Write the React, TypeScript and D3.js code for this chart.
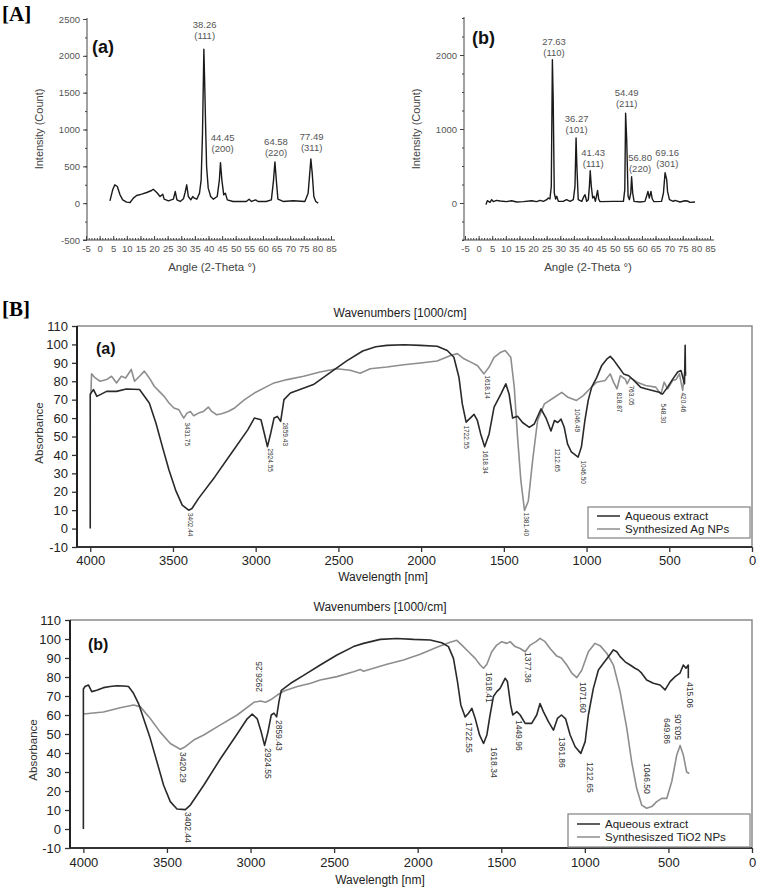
import React, { useEffect, useRef } from 'react';
import * as d3 from 'd3';

type Pt = [number, number];

interface PeakLabel {
    text: string;
    hkl?: string;
    x: number;
    y: number;
    rot?: number;
}

const W = 760;
const H = 888;
const FONT = 'Liberation Sans, Arial, sans-serif';

// ---------- [A] XRD ----------
const xrdXTicks = d3.range(-5, 86, 5);
const xrdAgYTicks = [-500, 0, 500, 1000, 1500, 2000, 2500];
const xrdTiYTicks = [0, 1000, 2000];

// (a) Ag NPs: [2-theta, count]
const xrdAg: Pt[] = [
    [3.8, 32], [4.8, 181], [5.6, 249], [6.5, 226], [7.5, 113], [8.5, 45], [9.9, 14], [11.2, 9],
    [12.4, 68], [13.6, 104], [15.5, 122], [17.3, 145], [19.1, 172], [19.7, 190], [21, 145],
    [22.2, 90], [23.2, 122], [23.7, 54], [25.3, 32], [27.1, 54], [27.8, 158], [28.4, 45],
    [29.6, 23], [30.8, 59], [31.4, 145], [32, 249], [32.6, 90], [33.5, 45], [34.2, 90],
    [34.8, 68], [35.7, 54], [36.7, 136], [37.3, 317], [37.8, 951], [38.3, 2090], [38.6, 1630],
    [39.0, 951], [39.3, 498], [39.9, 204], [40.8, 90], [41.8, 54], [43.2, 90], [44.0, 317],
    [44.4, 550], [44.9, 317], [45.6, 113], [46.2, 136], [46.9, 45], [49, 23], [53.9, 23],
    [54.9, 54], [55.8, 23], [57.3, 45], [58.2, 23], [61.2, 23], [63.1, 45], [63.9, 317],
    [64.4, 560], [64.9, 317], [65.5, 54], [67.4, 23], [71.1, 32], [75.4, 23], [76.6, 136],
    [77.2, 408], [77.6, 600], [78.1, 408], [78.7, 90], [79.4, 23], [80.3, 0],
];

// (b) TiO2 NPs
const xrdTi: Pt[] = [
    [2.7, -22], [3.2, 31], [4.2, 9], [4.8, 45], [5.4, 18], [6.6, 36], [7.9, 27], [10.3, 18],
    [12.1, 31], [14, 13], [16.4, 18], [19.5, 31], [21.3, 18], [22.6, 36], [23.8, 22], [25, 45],
    [25.6, 67], [26.2, 54], [26.7, 225], [27.1, 1935], [27.4, 1393], [27.8, 135], [28.3, 54],
    [28.7, 90], [29.3, 22], [31.1, 22], [32.3, 45], [33.6, 22], [34.8, 45], [35.4, 225],
    [35.8, 880], [36.1, 494], [36.6, 45], [37.9, 22], [38.7, 90], [39.1, 112], [39.7, 22],
    [40.3, 45], [40.7, 225], [41.0, 435], [41.4, 225], [41.9, 67], [42.4, 90], [42.9, 22],
    [43.4, 112], [43.7, 171], [44.1, 54], [44.6, 18], [49.5, 22], [53.2, 22], [53.7, 180],
    [54.0, 1213], [54.4, 854], [54.9, 90], [55.4, 45], [55.9, 135], [56.2, 355], [56.6, 135],
    [57.1, 22], [59.3, 13], [61.1, 22], [61.7, 90], [62.2, 157], [62.7, 67], [63.3, 157],
    [63.8, 54], [64.4, 18], [67.2, 22], [67.9, 135], [68.5, 410], [69.1, 315], [69.4, 157],
    [70.1, 45], [71.5, 22], [72.1, 36], [74, 13], [75.8, 31], [76.7, 27], [77.7, 9], [79.5, 13],
];

const xrdAgPeaks: PeakLabel[] = [
    { text: '38.26', hkl: '(111)', x: 38.6, y: 2418 },
    { text: '44.45', hkl: '(200)', x: 45.2, y: 883 },
    { text: '64.58', hkl: '(220)', x: 64.8, y: 829 },
    { text: '77.49', hkl: '(311)', x: 77.9, y: 897 },
];

const xrdTiPeaks: PeakLabel[] = [
    { text: '27.63', hkl: '(110)', x: 27.7, y: 2176 },
    { text: '36.27', hkl: '(101)', x: 36.0, y: 1135 },
    { text: '41.43', hkl: '(111)', x: 42.1, y: 676 },
    { text: '54.49', hkl: '(211)', x: 54.4, y: 1486 },
    { text: '56.80', hkl: '(220)', x: 59.3, y: 608 },
    { text: '69.16', hkl: '(301)', x: 69.3, y: 676 },
];

// ---------- [B] FTIR ----------
const ftirXTicks = [4000, 3500, 3000, 2500, 2000, 1500, 1000, 500, 0];
const ftirYTicks = d3.range(-10, 111, 10);
const legendAg = ['Aqueous extract', 'Synthesized Ag NPs'];
const legendTi = ['Aqueous extract', 'Synthesiszed TiO2 NPs'];

// (a) aqueous extract: [wavenumber, absorbance]
const ftirExtractA: Pt[] = [
    [4000, 0], [4000, 73], [3980, 75.5], [3960, 71.8], [3901, 74.5], [3841, 74.5], [3782, 75.8],
    [3702, 75.5], [3643, 68.2], [3603, 57.3], [3564, 44.5], [3524, 31.8], [3484, 20.9],
    [3444, 12.7], [3405, 10], [3385, 10.9], [3345, 16.4], [3246, 28.2], [3147, 40.9],
    [3048, 53.6], [3008, 60], [2968, 59.1], [2948, 51.8], [2929, 44.5], [2909, 51.8],
    [2889, 60], [2869, 60.9], [2849, 58.2], [2829, 70], [2790, 73.6], [2651, 78.2],
    [2552, 84.5], [2452, 90.9], [2353, 96.4], [2274, 98.7], [2207, 99.5], [2105, 99.8],
    [2004, 99.5], [1903, 99], [1842, 96.7], [1802, 93], [1771, 82], [1751, 67.7], [1728, 57.8],
    [1680, 62], [1660, 58.7], [1640, 51.4], [1616, 44.4], [1589, 51.4], [1559, 66], [1518, 73],
    [1488, 78.6], [1468, 73], [1447, 60], [1417, 61], [1387, 57.6], [1346, 55], [1316, 56.8],
    [1275, 65], [1245, 60], [1215, 53], [1194, 58.7], [1174, 57.6], [1154, 59.4], [1135, 55],
    [1115, 46], [1092, 41.6], [1051, 38.8], [1031, 44.4], [1010, 58.7], [990, 69.6], [969, 76.8],
    [939, 82], [908, 88.6], [878, 92], [857, 93.5], [837, 91.6], [806, 87.7], [776, 84],
    [745, 83], [714, 80.4], [674, 76.8], [643, 75.9], [602, 75], [561, 74], [541, 73], [510, 76.8],
    [480, 81], [449, 85], [429, 85.8], [408, 78.6], [404, 99.5], [402, 83],
];

// (a) synthesized Ag NPs
const ftirAgNP: Pt[] = [
    [3996, 73], [3992, 84], [3970, 81.8], [3940, 80], [3901, 80.9], [3871, 82.7], [3841, 79.1],
    [3812, 82.7], [3786, 81.8], [3752, 86.4], [3732, 80], [3702, 82.7], [3673, 85.5], [3643, 81.8],
    [3613, 77.3], [3583, 74.5], [3553, 71.8], [3524, 68.2], [3494, 65.5], [3464, 64.5], [3435, 60],
    [3415, 62.7], [3395, 63.6], [3375, 61.3], [3345, 62.7], [3316, 63.6], [3286, 66], [3266, 63.6],
    [3236, 61.8], [3206, 62.4], [3167, 63.6], [3127, 65.5], [3067, 70], [3008, 73.6], [2948, 76.4],
    [2889, 79.1], [2810, 80.9], [2710, 82.7], [2611, 85], [2510, 86.8], [2429, 86], [2368, 84.4],
    [2308, 86.8], [2207, 87.7], [2105, 89], [2004, 89.9], [1903, 91], [1822, 94], [1781, 95],
    [1741, 92.2], [1700, 90.4], [1660, 88.6], [1620, 84], [1589, 87.7], [1559, 93], [1518, 95.8],
    [1492, 96.7], [1458, 93], [1437, 76.8], [1417, 49.6], [1397, 26], [1375, 9.8], [1352, 15],
    [1326, 37], [1296, 58.7], [1255, 67.7], [1194, 71.3], [1150, 74], [1112, 71.3], [1061, 69.6],
    [1020, 72.2], [980, 75.9], [939, 79.5], [888, 80.4], [857, 84], [837, 79.5], [816, 75.9],
    [796, 83], [765, 81], [755, 78.6], [735, 82], [694, 79.5], [643, 77.7], [582, 76.8], [551, 73],
    [531, 79.5], [510, 75.9], [480, 80.4], [459, 81], [439, 84], [419, 75], [408, 84], [398, 85],
];

// (b) aqueous extract
const ftirExtractB: Pt[] = [
    [4000, 0], [4000, 73.7], [3990, 75], [3970, 75.8], [3950, 72.3], [3920, 73], [3880, 74.4],
    [3840, 75], [3800, 75.4], [3760, 75.3], [3730, 75], [3700, 71.4], [3670, 66], [3640, 58.2],
    [3600, 47.7], [3560, 35.4], [3520, 23], [3480, 14.4], [3440, 10.5], [3390, 10.2], [3360, 12.6],
    [3280, 23], [3180, 37], [3080, 50], [3020, 58], [2990, 60.5], [2960, 58], [2936, 51],
    [2916, 44], [2896, 51], [2876, 60], [2860, 61], [2844, 59], [2830, 67], [2816, 73],
    [2760, 76.7], [2680, 81], [2583, 86.3], [2483, 91.6], [2384, 96], [2324, 97.7], [2224, 99.8],
    [2125, 100.3], [2025, 99.8], [1925, 99.5], [1856, 98], [1816, 96], [1786, 89.8], [1762, 77.6],
    [1742, 65.3], [1716, 59], [1696, 60.9], [1676, 63.5], [1656, 58.2], [1630, 49.5], [1606, 45],
    [1586, 49.5], [1567, 60], [1547, 69.7], [1527, 72.3], [1507, 74], [1477, 79.3], [1463, 77.6],
    [1444, 65.3], [1431, 60], [1407, 61.8], [1387, 60], [1357, 55.6], [1318, 55.6], [1288, 60],
    [1268, 66], [1248, 61.8], [1218, 56.5], [1188, 52], [1164, 58.2], [1140, 60], [1115, 58],
    [1088, 49.5], [1058, 43.3], [1024, 39.8], [998, 46], [979, 60], [949, 74], [919, 83.7],
    [889, 87.2], [859, 90.7], [829, 94.3], [809, 93.3], [789, 90.7], [759, 88], [729, 86.3],
    [700, 84.6], [680, 83.7], [660, 82], [630, 78.4], [590, 76.7], [550, 75.8], [520, 73.2],
    [490, 77.6], [460, 80.2], [431, 82], [411, 86.3], [395, 84.6], [381, 86.3], [381, 79.3],
];

// (b) synthesized TiO2 NPs
const ftirTiNP: Pt[] = [
    [4000, 60.5], [3880, 61.6], [3780, 63.8], [3700, 65.3], [3660, 64.4], [3600, 58.2], [3540, 51],
    [3480, 45], [3420, 42], [3390, 43.3], [3340, 46.8], [3280, 49.5], [3180, 54.8], [3080, 60],
    [2980, 66.7], [2940, 67.4], [2910, 66.7], [2880, 68], [2840, 70.5], [2800, 72.6], [2720, 75],
    [2640, 76.7], [2583, 78.4], [2483, 80.2], [2384, 82.8], [2344, 84], [2324, 83], [2184, 86.7],
    [2085, 89], [1985, 92], [1885, 95.6], [1806, 98.3], [1766, 99.3], [1736, 96.8], [1696, 93.3],
    [1656, 89.8], [1626, 86.3], [1606, 84.6], [1586, 86.7], [1557, 93.3], [1527, 96.8],
    [1497, 98.6], [1467, 97.7], [1447, 98.6], [1417, 96], [1387, 95], [1357, 93.3], [1327, 96.8],
    [1292, 98.6], [1268, 100.3], [1238, 98.6], [1208, 95], [1168, 91], [1140, 90], [1108, 86.3],
    [1078, 82], [1048, 79.7], [1018, 83.7], [979, 93.3], [939, 97.7], [909, 96.5], [869, 92.5],
    [829, 86.3], [789, 72.3], [749, 53], [720, 35.4], [690, 21.4], [660, 12.6], [630, 10.9],
    [600, 11.8], [570, 14.4], [540, 16.1], [510, 16.1], [480, 25], [450, 39], [430, 44], [411, 39],
    [391, 30], [375, 29.2],
];

const ftirPeaksA: PeakLabel[] = [
    { text: '3431.75', x: 3415, y: 57.6 },
    { text: '3402.44', x: 3397, y: 8.5 },
    { text: '2924.55', x: 2913, y: 43.5 },
    { text: '2859.43', x: 2823, y: 57.6 },
    { text: '1618.14', x: 1602, y: 83.2 },
    { text: '1722.55', x: 1729, y: 56 },
    { text: '1618.34', x: 1614, y: 42.4 },
    { text: '1381.40', x: 1366, y: 8.7 },
    { text: '1212.65', x: 1179, y: 43.5 },
    { text: '1046.49', x: 1058, y: 65.2 },
    { text: '1046.50', x: 1022, y: 37 },
    { text: '818.87', x: 804, y: 73.9 },
    { text: '763.05', x: 732, y: 77.7 },
    { text: '548.30', x: 538, y: 67.9 },
    { text: '420.46', x: 417, y: 73.9 },
];

const ftirPeaksB: PeakLabel[] = [
    { text: '3420.29', x: 3410, y: 40.5 },
    { text: '3402.44', x: 3380, y: 8.9 },
    { text: '2926.25', x: 2943, y: 72.1, rot: -90 },
    { text: '2924.55', x: 2902, y: 42.6 },
    { text: '2859.43', x: 2836, y: 57.4 },
    { text: '1722.55', x: 1699, y: 56.3 },
    { text: '1618.34', x: 1550, y: 43.2 },
    { text: '1618.41', x: 1580, y: 82.6 },
    { text: '1449.96', x: 1400, y: 57.4 },
    { text: '1377.36', x: 1346, y: 93.2 },
    { text: '1361.86', x: 1143, y: 48.4 },
    { text: '1212.65', x: 975, y: 35.3 },
    { text: '1071.60', x: 1017, y: 77.4 },
    { text: '1046.50', x: 634, y: 34.7 },
    { text: '649.86', x: 512, y: 58.4 },
    { text: '503.05', x: 440, y: 46.8, rot: -90 },
    { text: '415.06', x: 377, y: 77.4 },
];

const DARK = '#2a2a2a';
const GREY = '#8e8e8e';

type Sel = d3.Selection<SVGSVGElement, unknown, null, undefined>;

interface XrdCfg {
    xl: number; xr: number; yb: number; yt: number; axisX: number;
    ticks: number[]; data: Pt[]; peaks: PeakLabel[];
    tag: string; tagX: number; tagY: number; titleX: number; labelX: number;
}

const drawXrd = (svg: Sel, c: XrdCfg) => {
    const x = d3.scaleLinear().domain([-5, 85]).range([c.xl, c.xr]);
    const y = d3.scaleLinear().domain([-500, 2500]).range([c.yb, c.yt]);
    const g = svg.append('g').attr('font-family', FONT);

    // axis lines
    g.append('line').attr('x1', c.axisX).attr('x2', c.axisX).attr('y1', c.yt - 1).attr('y2', c.yb)
        .attr('stroke', '#444').attr('stroke-width', 1);
    g.append('line').attr('x1', c.xl - 3).attr('x2', c.xr + 4).attr('y1', c.yb).attr('y2', c.yb)
        .attr('stroke', '#444').attr('stroke-width', 1);

    // x ticks
    const xa = g.append('g').attr('transform', `translate(0,${c.yb})`)
        .call(d3.axisBottom(x).tickValues(xrdXTicks).tickSize(-4).tickPadding(5).tickFormat((d) => String(d)));
    xa.select('.domain').remove();
    const xm = g.append('g').attr('transform', `translate(0,${c.yb})`)
        .call(d3.axisBottom(x).tickValues(d3.range(-5, 86, 1)).tickSize(-2).tickFormat(() => ''));
    xm.select('.domain').remove();

    // y ticks
    const ya = g.append('g').attr('transform', `translate(${c.axisX},0)`)
        .call(d3.axisLeft(y).tickValues(c.ticks).tickSize(4).tickPadding(3).tickFormat((d) => String(d)));
    ya.select('.domain').remove();
    const ym = g.append('g').attr('transform', `translate(${c.axisX},0)`)
        .call(d3.axisLeft(y).tickValues(d3.range(-500, 2501, 250)).tickSize(2).tickFormat(() => ''));
    ym.select('.domain').remove();

    g.selectAll('.tick line').attr('stroke', '#444');
    g.selectAll('.tick text').attr('font-size', 9.5).attr('fill', '#555').attr('font-family', FONT);

    // spectrum
    const line = d3.line<Pt>().x((d) => x(d[0])).y((d) => y(d[1]));
    g.append('path').datum(c.data).attr('d', line).attr('fill', 'none')
        .attr('stroke', '#1a1a1a').attr('stroke-width', 1.4).attr('stroke-linejoin', 'round');

    // peak labels
    c.peaks.forEach((p) => {
        const t = g.append('text').attr('x', x(p.x)).attr('y', y(p.y)).attr('text-anchor', 'middle')
            .attr('font-size', 9.5).attr('fill', '#555');
        t.append('tspan').attr('x', x(p.x)).attr('dy', '0.35em').text(p.text);
        t.append('tspan').attr('x', x(p.x)).attr('dy', 11).text(p.hkl ?? '');
    });

    g.append('text').attr('x', c.tagX).attr('y', c.tagY).attr('font-size', 18).attr('font-weight', 'bold')
        .attr('fill', '#111').text(c.tag);
    g.append('text').attr('transform', `translate(${c.titleX},129) rotate(-90)`).attr('text-anchor', 'middle')
        .attr('font-size', 11).attr('fill', '#444').text('Intensity (Count)');
    g.append('text').attr('x', c.labelX).attr('y', 271).attr('text-anchor', 'middle')
        .attr('font-size', 11.5).attr('fill', '#444').text('Angle (2-Theta °)');
};

interface FtirCfg {
    left: number; right: number; top: number; bottom: number;
    extract: Pt[]; nps: Pt[]; peaks: PeakLabel[]; peakSize: number;
    legend: string[]; lgX: number; lgY: number; lgW: number; lgH: number;
    tag: string; tagX: number; tagY: number;
    titleX: number; titleY: number; xlabX: number; xlabY: number; absX: number; absY: number;
    tickPad: number;
}

const drawFtir = (svg: Sel, c: FtirCfg) => {
    const x = d3.scaleLinear().domain([4080, 0]).range([c.left, c.right]);
    const y = d3.scaleLinear().domain([-10, 110]).range([c.bottom, c.top]);
    const g = svg.append('g').attr('font-family', FONT);

    // frame
    g.append('path').attr('d', `M${c.left},${c.top}H${c.right}V${c.bottom}`)
        .attr('fill', 'none').attr('stroke', '#8a8a8a').attr('stroke-width', 1.5);

    const xa = g.append('g').attr('transform', `translate(0,${c.bottom})`)
        .call(d3.axisBottom(x).tickValues(ftirXTicks).tickSize(5).tickPadding(c.tickPad).tickFormat((d) => String(d)));
    xa.select('.domain').remove();
    const ya = g.append('g').attr('transform', `translate(${c.left},0)`)
        .call(d3.axisLeft(y).tickValues(ftirYTicks).tickSize(5).tickPadding(4).tickFormat((d) => String(d)));
    ya.select('.domain').remove();
    g.selectAll('.tick line').attr('stroke', '#333').attr('stroke-width', 1.3);
    g.selectAll('.tick text').attr('font-size', 13).attr('fill', '#222').attr('font-family', FONT);

    g.append('line').attr('x1', c.left).attr('x2', c.right).attr('y1', c.bottom).attr('y2', c.bottom)
        .attr('stroke', '#333').attr('stroke-width', 1.8);
    g.append('line').attr('x1', c.left).attr('x2', c.left).attr('y1', c.top).attr('y2', c.bottom)
        .attr('stroke', '#222').attr('stroke-width', 2);

    const line = d3.line<Pt>().x((d) => x(d[0])).y((d) => y(d[1]));
    g.append('path').datum(c.nps).attr('d', line).attr('fill', 'none')
        .attr('stroke', GREY).attr('stroke-width', 1.6).attr('stroke-linejoin', 'round');
    g.append('path').datum(c.extract).attr('d', line).attr('fill', 'none')
        .attr('stroke', DARK).attr('stroke-width', 1.6).attr('stroke-linejoin', 'round');

    c.peaks.forEach((p) => {
        const px = x(p.x);
        const py = y(p.y);
        g.append('text').attr('x', px).attr('y', py)
            .attr('transform', `rotate(${p.rot ?? 90},${px},${py})`)
            .attr('dominant-baseline', 'middle').attr('font-size', c.peakSize).attr('fill', '#333')
            .attr('font-family', FONT)
            .text(p.text);
    });

    // legend
    g.append('rect').attr('x', c.lgX).attr('y', c.lgY).attr('width', c.lgW).attr('height', c.lgH)
        .attr('fill', '#fff').attr('stroke', '#8a8a8a').attr('stroke-width', 1.3);
    [DARK, GREY].forEach((col, i) => {
        const ly = c.lgY + c.lgH / 2 - 6.5 + i * 13;
        g.append('line').attr('x1', c.lgX + 9).attr('x2', c.lgX + 32).attr('y1', ly).attr('y2', ly)
            .attr('stroke', col).attr('stroke-width', 1.5);
        g.append('text').attr('x', c.lgX + 37).attr('y', ly + 4)
            .attr('font-size', 11.5).attr('fill', '#222').text(c.legend[i]);
    });

    g.append('text').attr('x', c.tagX).attr('y', c.tagY).attr('font-size', 16).attr('font-weight', 'bold')
        .attr('fill', '#111').text(c.tag);
    g.append('text').attr('x', c.titleX).attr('y', c.titleY).attr('text-anchor', 'middle')
        .attr('font-size', 12).attr('fill', '#222').text('Wavenumbers [1000/cm]');
    g.append('text').attr('x', c.xlabX).attr('y', c.xlabY).attr('text-anchor', 'middle')
        .attr('font-size', 12).attr('fill', '#222').text('Wavelength [nm]');
    g.append('text').attr('transform', `translate(${c.absX},${c.absY}) rotate(-90)`).attr('text-anchor', 'middle')
        .attr('font-size', 11.5).attr('fill', '#333').text('Absorbance');
};

const App: React.FC = () => {
    const svgRef = useRef<SVGSVGElement>(null);

    useEffect(() => {
        const svg = d3.select(svgRef.current!) as Sel;
        svg.selectAll('*').remove();
        svg.append('rect').attr('width', W).attr('height', H).attr('fill', '#fff');

        svg.append('text').attr('x', 2).attr('y', 21).attr('font-family', 'Liberation Serif, serif')
            .attr('font-weight', 'bold').attr('font-size', 21).text('[A]');
        svg.append('text').attr('x', 2).attr('y', 316).attr('font-family', 'Liberation Serif, serif')
            .attr('font-weight', 'bold').attr('font-size', 21).text('[B]');

        drawXrd(svg, {
            xl: 86, xr: 331, yb: 240, yt: 19, axisX: 87, ticks: xrdAgYTicks, data: xrdAg, peaks: xrdAgPeaks,
            tag: '(a)', tagX: 92, tagY: 53, titleX: 43, labelX: 212,
        });
        drawXrd(svg, {
            xl: 465, xr: 710, yb: 240, yt: 18, axisX: 464, ticks: xrdTiYTicks, data: xrdTi, peaks: xrdTiPeaks,
            tag: '(b)', tagX: 472, tagY: 44, titleX: 420, labelX: 588,
        });

        drawFtir(svg, {
            left: 77, right: 752, top: 326, bottom: 547,
            extract: ftirExtractA, nps: ftirAgNP, peaks: ftirPeaksA, peakSize: 6.5,
            legend: legendAg, lgX: 588, lgY: 507, lgW: 162, lgH: 31,
            tag: '(a)', tagX: 96, tagY: 354,
            titleX: 400, titleY: 317, xlabX: 383, xlabY: 581, absX: 43, absY: 433, tickPad: 4,
        });
        drawFtir(svg, {
            left: 70, right: 752, top: 620, bottom: 848,
            extract: ftirExtractB, nps: ftirTiNP, peaks: ftirPeaksB, peakSize: 8.5,
            legend: legendTi, lgX: 568, lgY: 814, lgW: 182, lgH: 33,
            tag: '(b)', tagX: 88, tagY: 650,
            titleX: 380, titleY: 611, xlabX: 380, xlabY: 884, absX: 37, absY: 750, tickPad: 5,
        });
    }, []);

    return (
        <svg ref={svgRef} width={W} height={H}
            style={{ position: 'absolute', left: 0, top: 0, display: 'block' }} />
    );
};

export default App;
